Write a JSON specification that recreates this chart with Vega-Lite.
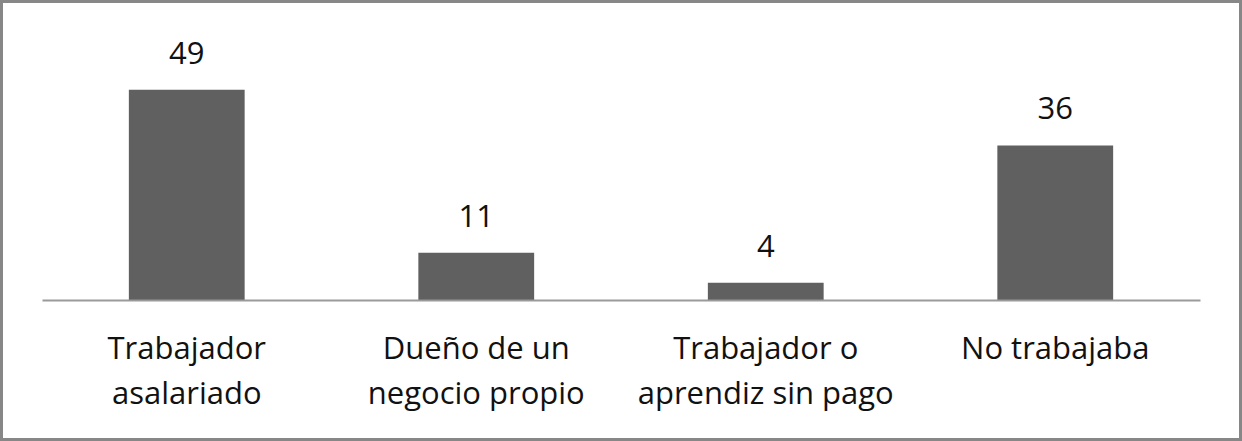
{
  "$schema": "https://vega.github.io/schema/vega-lite/v6.json",
  "autosize": {"type": "fit", "contains": "padding"},
  "width": 1242,
  "height": 441,
  "padding": 0,
  "background": "white",
  "config": {
    "view": {"stroke": "#878787", "strokeWidth": 6},
    "font": "Open Sans"
  },
  "data": {
    "values": [
      {"categoria": "Trabajador|asalariado", "valor": 49},
      {"categoria": "Dueño de un|negocio propio", "valor": 11},
      {"categoria": "Trabajador o|aprendiz sin pago", "valor": 4},
      {"categoria": "No trabajaba", "valor": 36}
    ]
  },
  "encoding": {
    "x": {
      "field": "categoria",
      "type": "nominal",
      "sort": null,
      "scale": {"range": [42, 1200], "paddingInner": 0.6, "paddingOuter": 0.3},
      "axis": {
        "title": null,
        "offset": -141,
        "labelAngle": 0,
        "labelExpr": "split(datum.label, '|')",
        "labelFont": "Open Sans",
        "labelFontSize": 31,
        "labelLineHeight": 45,
        "labelLimit": 0,
        "labelColor": "#111111",
        "labelPadding": 34,
        "labelBaseline": "top",
        "ticks": false,
        "domainColor": "#9a9a9a",
        "domainWidth": 2,
        "grid": false
      }
    },
    "y": {
      "field": "valor",
      "type": "quantitative",
      "scale": {"domain": [-32.9, 69.9], "nice": false},
      "axis": null
    }
  },
  "layer": [
    {"mark": {"type": "bar", "color": "#606060"}},
    {
      "mark": {"type": "text", "baseline": "alphabetic", "dy": -26, "fontSize": 31, "font": "Open Sans", "color": "#111111"},
      "encoding": {"text": {"field": "valor", "type": "quantitative"}}
    }
  ]
}
